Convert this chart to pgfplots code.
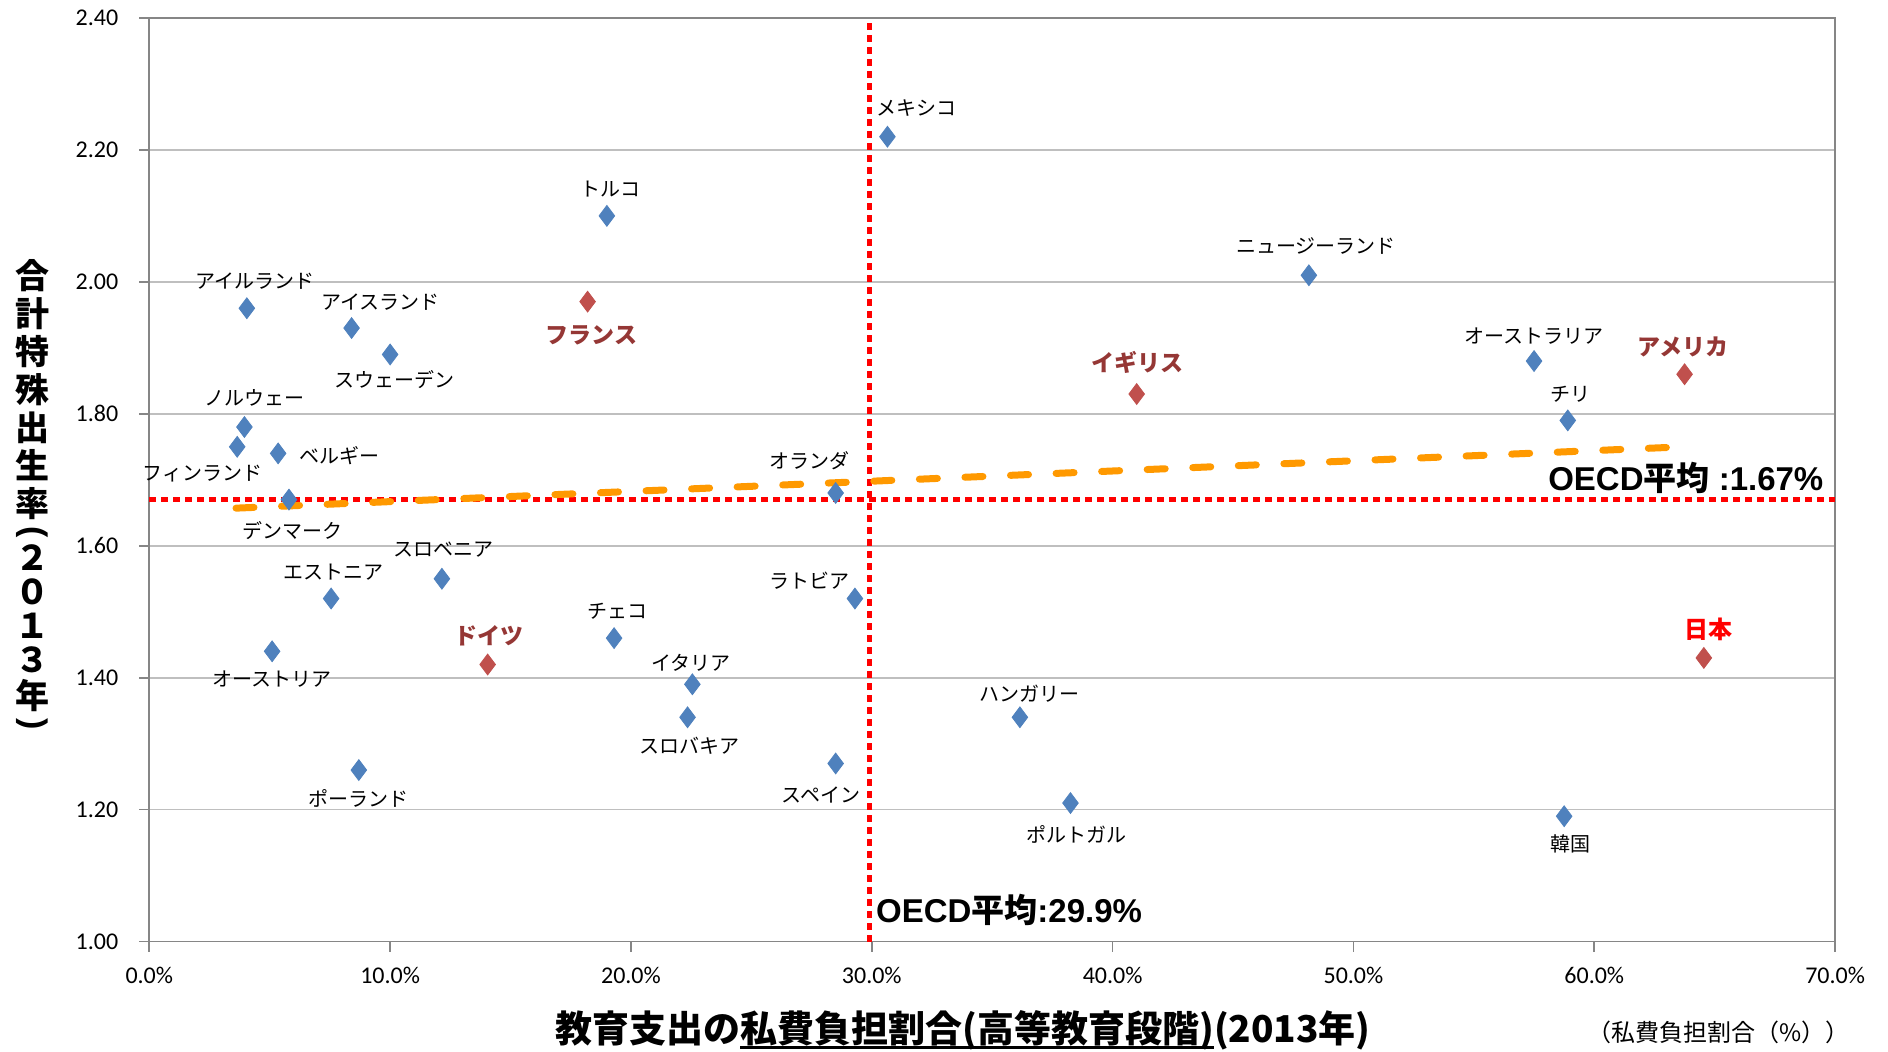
\documentclass[border=0pt]{standalone}
\usepackage{pgfplots}
\pgfplotsset{compat=1.18}
\usepackage{pgfplotstable}
\usepackage{graphicx}
\usepackage{fontspec}
\setmainfont{Carlito}
\newfontfamily\jp{Noto Sans CJK JP}
\newfontfamily\lib{Liberation Sans}

\definecolor{ptblue}{HTML}{4F81BD}
\definecolor{ptred}{HTML}{C0504D}
\definecolor{lblred}{HTML}{953735}
\definecolor{trend}{HTML}{FF9900}
\definecolor{gridgray}{HTML}{BFBFBF}
\definecolor{axgray}{HTML}{868686}

% private share of tertiary education spending (%) vs total fertility rate, 2013
\pgfplotstableread{
x     y
30.65 2.22
19.00 2.10
48.15 2.01
4.05  1.96
8.40  1.93
10.00 1.89
57.50 1.88
58.90 1.79
3.95  1.78
3.65  1.75
5.35  1.74
5.80  1.67
28.50 1.68
12.15 1.55
7.55  1.52
29.30 1.52
19.30 1.46
5.10  1.44
22.55 1.39
22.35 1.34
36.15 1.34
28.50 1.27
8.70  1.26
38.25 1.21
58.75 1.19
}\others

% highlighted countries
\pgfplotstableread{
x     y
18.20 1.97
63.75 1.86
41.00 1.83
14.05 1.42
64.55 1.43
}\keycountries

\tikzset{
  lbl/.style={font=\jp\fontsize{10}{12}\selectfont, inner sep=0pt, anchor=center, text=black},
  key/.style={font=\jp\bfseries\fontsize{11.5}{13}\selectfont, text=lblred},
  avg/.style={font=\bfseries\fontsize{16.5}{18}\selectfont, inner sep=0pt},
}
% \lab[style]{x}{y}{dx}{dy}{text}
\newcommand{\lab}[6][]{\node[lbl,#1] at ([shift={(#4pt,#5pt)}]axis cs:#2,#3) {#6};}
% parenthesis turned for vertical setting
\newcommand{\vparen}[1]{\rotatebox[origin=c]{-90}{\lib\bfseries #1}}
% underline sitting close to the baseline
\newcommand{\ul}[1]{\setbox0\hbox{#1}\rlap{\rule[-3pt]{\wd0}{1.2pt}}\box0}

\begin{document}
\begin{tikzpicture}
\begin{axis}[
  scale only axis,
  width=842.9pt, height=461.8pt,
  xmin=0, xmax=70, ymin=1, ymax=2.4,
  xtick={0,10,20,30,40,50,60,70},
  ytick={1.0,1.2,1.4,1.6,1.8,2.0,2.2,2.4},
  xticklabel={\pgfmathprintnumber[fixed,fixed zerofill,precision=1,assume math mode=true]{\tick}\%},
  yticklabel={\pgfmathprintnumber[fixed,fixed zerofill,precision=2,assume math mode=true]{\tick}},
  /pgf/number format/assume math mode=true,
  ymajorgrids,
  grid style={gridgray, line width=0.8pt},
  axis line style={axgray, line width=0.8pt},
  tick style={axgray, line width=0.8pt},
  tick align=outside,
  major tick length=5pt,
  xtick pos=bottom, ytick pos=left,
  tick label style={font=\fontsize{12}{14}\selectfont, text=black},
  xticklabel style={yshift=-4pt},
  yticklabel style={xshift=-7pt},
  clip=false,
]
\addplot[only marks, mark=diamond*, mark size=5.2pt, mark options={fill=ptblue, draw=ptblue}] table[x=x,y=y] {\others};
\addplot[only marks, mark=diamond*, mark size=5.2pt, mark options={fill=ptred, draw=ptred}] table[x=x,y=y] {\keycountries};

% OECD averages
\addplot[red, line width=2.7pt, dash pattern=on 3.3pt off 2.7pt] coordinates {(0,1.67) (70,1.67)};
\addplot[red, line width=2.7pt, dash pattern=on 3.3pt off 2.7pt] coordinates {(29.9,1.0) (29.9,2.4)};
% linear trend
\addplot[trend, line width=3.5pt, dash pattern=on 9pt off 13.8pt, line cap=round] coordinates {(3.6,1.657) (63.7,1.750)};

\lab{30.65}{2.22}{14.4}{14.4}{メキシコ}
\lab{19.00}{2.10}{1.8}{13.2}{トルコ}
\lab{48.15}{2.01}{3.6}{14.4}{ニュージーランド}
\lab{4.05}{1.96}{4.2}{13.8}{アイルランド}
\lab{8.40}{1.93}{14.4}{13.2}{アイスランド}
\lab{10.00}{1.89}{2.4}{-12.6}{スウェーデン}
\lab{57.50}{1.88}{0}{12.6}{オーストラリア}
\lab{58.90}{1.79}{1.2}{13.2}{チリ}
\lab{3.95}{1.78}{4.8}{14.4}{ノルウェー}
\lab{3.65}{1.75}{-17.5}{-13.2}{フィンランド}
\lab{5.35}{1.74}{30.7}{-1.2}{ベルギー}
\lab{5.80}{1.67}{1.8}{-15.7}{デンマーク}
\lab{28.50}{1.68}{-13.2}{16.3}{オランダ}
\lab{12.15}{1.55}{0.6}{14.4}{スロベニア}
\lab{7.55}{1.52}{1.2}{13.2}{エストニア}
\lab{29.30}{1.52}{-22.9}{9}{ラトビア}
\lab{19.30}{1.46}{1.8}{13.2}{チェコ}
\lab{5.10}{1.44}{0}{-13.8}{オーストリア}
\lab{22.55}{1.39}{-0.6}{10.8}{イタリア}
\lab{22.35}{1.34}{1.2}{-14.4}{スロバキア}
\lab{36.15}{1.34}{4.8}{12}{ハンガリー}
\lab{28.50}{1.27}{-7.2}{-15.7}{スペイン}
\lab{8.70}{1.26}{0}{-14.4}{ポーランド}
\lab{38.25}{1.21}{3}{-15.7}{ポルトガル}
\lab{58.75}{1.19}{3}{-13.8}{韓国}

\lab[key]{18.20}{1.97}{1.8}{-16.9}{フランス}
\lab[key]{63.75}{1.86}{-0.6}{13.8}{アメリカ}
\lab[key]{41.00}{1.83}{0.6}{15.7}{イギリス}
\lab[key]{14.05}{1.42}{0.6}{14.4}{ドイツ}
\lab[key, text=red, font=\jp\bfseries\fontsize{12}{14}\selectfont]{64.55}{1.43}{2.4}{14.4}{日本}

\node[avg] at (axis cs:63.8,1.703) {{\lib OECD}{\jp 平均}{\lib\ :1.67\%}};
\node[avg] at (axis cs:35.7,1.0476) {{\lib OECD}{\jp 平均}{\lib :29.9\%}};
\end{axis}

% axis titles
\node[font=\jp\bfseries\fontsize{18.5}{20}\selectfont, inner sep=0pt] at (406.9pt,-44.5pt)
  {教育支出の\ul{私費負担割合(高等教育段階)}(2013年)};
\node[font=\jp\fontsize{12}{14}\selectfont, inner sep=0pt] at (784.4pt,-45.2pt)
  {（私費負担割合（\%））};
\node[font=\jp\bfseries\fontsize{17}{17}\selectfont, inner sep=0pt, align=center] at (-58.4pt,222.8pt)
  {合\\[2pt]計\\[2pt]特\\[2pt]殊\\[2pt]出\\[2pt]生\\[2pt]率\\[-5pt]\vparen{(}\\[-2pt]２\\０\\１\\３\\[1pt]年\\[-5pt]\vparen{)}};

\pgfresetboundingbox
\path (-74.65pt,-55.2pt) rectangle (869.35pt,470.8pt);
\end{tikzpicture}
\end{document}
